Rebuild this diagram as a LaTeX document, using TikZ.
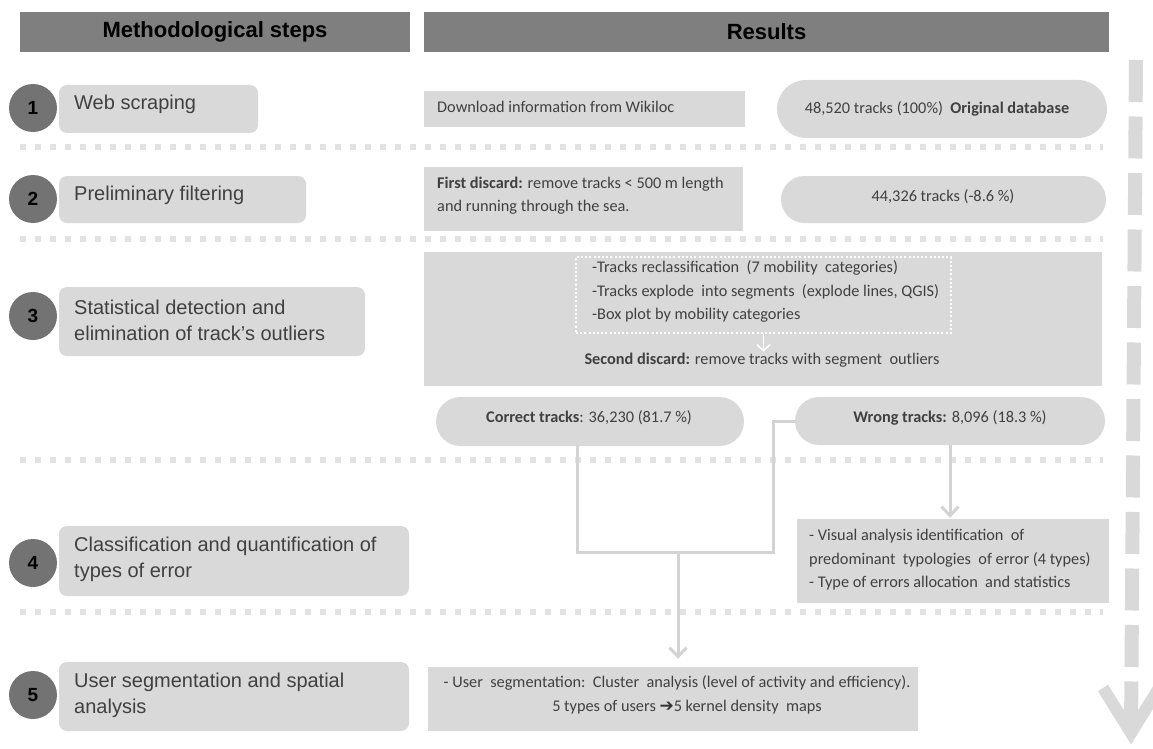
\documentclass[tikz,border=0pt]{standalone}
\usepackage{fontspec}
\setmainfont{Liberation Sans}
\newfontfamily\calfont{Carlito}
\newfontfamily\djv{DejaVu Sans}
\usetikzlibrary{arrows.meta}
\definecolor{hdrgray}{HTML}{7F7F7F}
\definecolor{circgray}{HTML}{737373}
\definecolor{boxgray}{HTML}{D9D9D9}
\definecolor{sepgray}{HTML}{E2E2E2}
\definecolor{linegray}{HTML}{D3D3D3}
\definecolor{txtgray}{HTML}{404040}
\begin{document}
\begin{tikzpicture}[x=1pt,y=-1pt,
  hdr/.style={fill=hdrgray, inner sep=0pt, text=black, font=\fontsize{22}{26}\selectfont\bfseries},
  stepbox/.style={fill=boxgray, rounded corners=8pt, inner sep=0pt},
  num/.style={circle, fill=circgray, minimum size=48pt, inner sep=0pt, text=black, font=\fontsize{19}{20}\selectfont\bfseries},
  steptext/.style={font=\fontsize{20}{26}\selectfont, text=txtgray, align=left, inner sep=0pt, anchor=west},
  resbox/.style={fill=boxgray, inner sep=0pt},
  stadium/.style={fill=boxgray, inner sep=0pt},
  restext/.style={font=\calfont\fontsize{16.3}{23.5}\selectfont, text=txtgray, inner sep=0pt},
  sepline/.style={draw=sepgray, line width=6pt, dash pattern=on 6pt off 9pt},
  conn/.style={draw=linegray, line width=3pt},
  tip/.style={-{Straight Barb[length=9pt,width=17pt]}}
]
\useasboundingbox (0,0) rectangle (1153,749);

% headers
\node[hdr, minimum width=390pt, minimum height=40pt] (h1) at (215,32) {Methodological steps};
\node[hdr, minimum width=685pt, minimum height=40pt] (h2) at (766.5,32) {Results};

% separators
\foreach \yy/\nm in {147/sa,239/sb,460/sc,612/sd}{
  \coordinate (\nm l) at (20,\yy);
  \coordinate (\nm r) at (1103,\yy);
  \draw[sepline] (\nm l) -- (\nm r);
}

% step boxes
\node[stepbox, minimum width=199pt, minimum height=48pt] (s1) at (158.5,109) {};
\node[stepbox, minimum width=247pt, minimum height=47pt] (s2) at (182.5,199.5) {};
\node[stepbox, minimum width=306pt, minimum height=69pt] (s3) at (212,321.5) {};
\node[stepbox, minimum width=350pt, minimum height=70pt] (s4) at (234,561) {};
\node[stepbox, minimum width=350pt, minimum height=69pt] (s5) at (234,696.5) {};

\node[steptext] (t1) at (74,104) {Web scraping};
\node[steptext] (t2) at (74,195) {Preliminary filtering};
\node[steptext] (t3) at (74,320) {Statistical detection and\\elimination of track’s outliers};
\node[steptext] (t4) at (74,559.5) {Classification and quantification of\\types of error};
\node[steptext] (t5) at (74,695) {User segmentation and spatial\\analysis};

\node[num] (n1) at (33,108) {1};
\node[num] (n2) at (33,199) {2};
\node[num] (n3) at (33,316) {3};
\node[num] (n4) at (33,563) {4};
\node[num] (n5) at (33,695) {5};

% results row 1
\node[resbox, minimum width=321pt, minimum height=36pt] (dl) at (584.5,109) {};
\node[restext, anchor=west] (dlt) at (437,107) {Download information from Wikiloc};
\node[stadium, minimum width=330pt, minimum height=58pt, rounded corners=29pt] (st1) at (942,109) {};
\node[restext] (st1t) at (937,109) {48,520 tracks (100\%)\ \ \textbf{Original database}};

% results row 2
\node[resbox, minimum width=319pt, minimum height=64pt] (fd) at (583.5,199) {};
\node[restext, anchor=west, align=left] (fdt) at (437,195.5) {\textbf{First discard:} remove tracks < 500 m length\\and running through the sea.};
\node[stadium, minimum width=325pt, minimum height=47pt, rounded corners=23.5pt] (st2) at (943.5,199.5) {};
\node[restext] (st2t) at (943,197) {44,326 tracks (-8.6 \%)};

% results row 3
\node[resbox, minimum width=678pt, minimum height=134pt] (b3) at (763,319) {};
\node[draw=white, line width=2pt, dash pattern=on 2pt off 2.2pt, minimum width=375pt, minimum height=76pt, inner sep=0pt] (dot) at (763.5,295) {};
\node[restext, anchor=west, align=left] (dott) at (592,291.5) {-Tracks reclassification\ \ (7 mobility\ \ categories)\\-Tracks explode\ \ into segments\ \ (explode lines, QGIS)\\-Box plot by mobility categories};
\node[restext] (sdt) at (762,360) {\textbf{Second discard:} remove tracks with segment\ \ outliers};
\draw[draw=white, line width=1.5pt, -{Straight Barb[length=6pt,width=13pt]}] (dot.south) -- ([yshift=1pt]sdt.north -| dot.south);

\node[stadium, minimum width=308pt, minimum height=49pt, rounded corners=24.5pt] (ok) at (590,421.5) {};
\node[restext] (okt) at (589,418) {\textbf{Correct tracks}: 36,230 (81.7 \%)};
\node[stadium, minimum width=310pt, minimum height=48pt, rounded corners=24pt] (wr) at (950,421) {};
\node[restext] (wrt) at (950,418) {\textbf{Wrong tracks:} 8,096 (18.3 \%)};

% results row 4
\node[resbox, minimum width=312pt, minimum height=84pt] (r4) at (953,561) {};
\node[restext, anchor=west, align=left] (r4t) at (809,560) {- Visual analysis identification\ \ of\\predominant\ \ typologies\ \ of error (4 types)\\- Type of errors allocation\ \ and statistics};

% results row 5
\node[resbox, minimum width=490pt, minimum height=64pt] (r5) at (673,699) {};
\node[restext, align=center] (r5t) at (677,695) {- User\ \ segmentation:\ \ Cluster\ \ analysis (level of activity and efficiency).\\\hspace*{20pt}5 types of users {\djv\bfseries\fontsize{17}{16}\selectfont\color{black!80}➔}5 kernel density\ \ maps};

% connectors
\coordinate (jl) at (577,552);
\coordinate (jr) at (773,552);
\coordinate (jm) at (678,552);
\draw[conn] (ok.south -| jl) -- (jl) -- (jr) -- (jr |- wr.west) -- (wr.west);
\draw[conn, tip, shorten >=8pt] (jm) -- (r5.north -| jm);
\draw[conn, tip, shorten >=1pt] (wr.south) -- (wr.south |- r4.north);

% big dashed arrow on the right
\coordinate (ra1) at (1136,60);
\coordinate (ra2) at (1131,733);
\coordinate (rl) at (1103,688);
\coordinate (rr) at (1159,688);
\draw[draw=boxgray, line width=14pt, dash pattern=on 42pt off 14.5pt] (ra1) -- (ra2);
\draw[draw=boxgray, line width=12pt, miter limit=4] (rl) -- (ra2) -- (rr);
\end{tikzpicture}
\end{document}
